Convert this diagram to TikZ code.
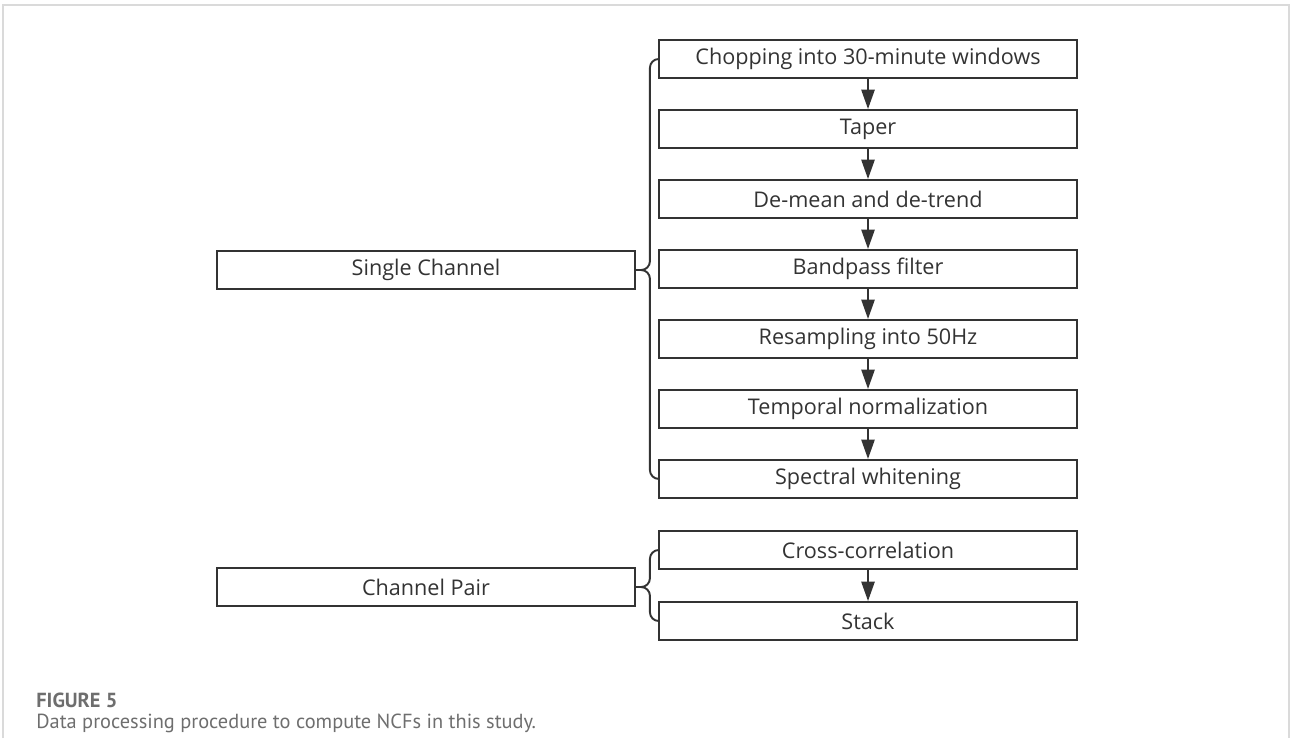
\documentclass[tikz,border=0pt]{standalone}
\usepackage{fontspec}
\setmainfont{Open Sans}
\newfontfamily\capfont{PT Sans}
\usetikzlibrary{arrows.meta,positioning,calc}
\definecolor{linegray}{HTML}{333333}
\definecolor{framegray}{HTML}{DADADA}
\definecolor{capgray}{HTML}{6E6E6E}

\begin{document}
\begin{tikzpicture}[x=0.02cm,y=-0.02cm,
            stepbox/.style={draw=linegray,line width=1.1pt,rectangle,minimum width=8.36cm,minimum height=0.76cm,inner sep=0pt,text=linegray,font=\fontsize{12.3}{14}\selectfont},
            node distance=1.4cm,
            flow/.style={draw=linegray,line width=1.1pt,-{Triangle[length=11pt,width=7.5pt]}},
            brace/.style={draw=linegray,line width=1.1pt,rounded corners=5pt},
            caption/.style={anchor=base west,inner sep=0pt,text=capgray,font=\capfont\fontsize{11.6}{13}\selectfont}
          ]
          \useasboundingbox (0,0) rectangle (1290,738);
          %frame
          \draw[framegray,line width=0.8pt] (3,738) -- (3,5) -- (1289,5) -- (1289,738);

          %single channel steps
          \node[stepbox] (chop) at (868,59) {Chopping into 30-minute windows};
          \node[below of = chop,stepbox] (taper) {Taper};
          \node[below of = taper,stepbox] (detrend) {De-mean and de-trend};
          \node[below of = detrend,stepbox] (bandpass) {Bandpass filter};
          \node[below of = bandpass,stepbox] (resample) {Resampling into 50Hz};
          \node[below of = resample,stepbox] (tempnorm) {Temporal normalization};
          \node[below of = tempnorm,stepbox] (whiten) {Spectral whitening};

          %channel pair steps
          \node[stepbox] (xcorr) at (868,550) {Cross-correlation};
          \node[below of = xcorr,stepbox,node distance=1.42cm] (stack) {Stack};

          %groups
          \node[stepbox] (single) at (426,270) {Single Channel};
          \node[stepbox] (pair) at (426,587) {Channel Pair};

          %braces
          \coordinate (singletip) at ($(single.east)+(14,0)$);
          \coordinate (pairtip) at ($(pair.east)+(14,0)$);
          \draw[brace] (chop.west) -| (singletip) -- (single.east);
          \draw[brace] (whiten.west) -| (singletip) -- (single.east);
          \draw[brace] (xcorr.west) -| (pairtip) -- (pair.east);
          \draw[brace] (stack.west) -| (pairtip) -- (pair.east);

          %arrows
          \path
          (chop) edge[flow] (taper)
          (taper) edge[flow] (detrend)
          (detrend) edge[flow] (bandpass)
          (bandpass) edge[flow] (resample)
          (resample) edge[flow] (tempnorm)
          (tempnorm) edge[flow] (whiten)
          (xcorr) edge[flow] (stack)
          ;

          %caption
          \node[caption,font=\capfont\fontsize{11.6}{13}\selectfont\bfseries] (figlabel) at (36,707) {FIGURE 5};
          \node[caption] (figtext) at (36,728) {Data processing procedure to compute NCFs in this study.};
      \end{tikzpicture}
\end{document}
